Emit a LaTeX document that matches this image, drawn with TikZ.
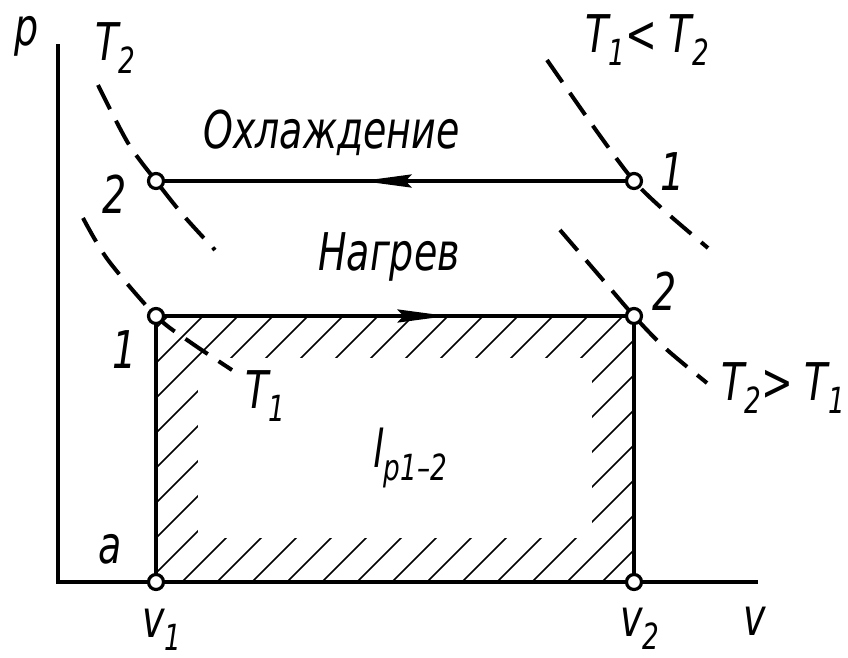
\documentclass[tikz,border=0pt]{standalone}
\usepackage{fontspec}
\setmainfont{DejaVu Sans}[FakeStretch=0.73]
\usetikzlibrary{arrows.meta,decorations.markings}
\newcommand\lowidx[1]{\raisebox{-13pt}[0pt][0pt]{\fontsize{36}{40}\selectfont #1}}

\begin{document}
\begin{tikzpicture}[x=1pt,y=-1pt,
  axis/.style={line width=4pt},
  proc/.style={line width=4pt},
  hatchln/.style={line width=1.6pt},
  isoterm/.style={line width=4pt, dash pattern=on 27pt off 13pt},
  pt/.style={circle, draw, fill=white, line width=3.2pt, minimum size=15pt, inner sep=0pt},
  lbl/.style={font=\itshape\fontsize{52}{60}\selectfont, inner sep=0pt, anchor=base west},
  flow/.style={postaction={decorate}, decoration={markings,
    mark=at position #1 with {\arrow{Stealth[length=50pt,width=13pt,inset=6pt]}}}}]
\useasboundingbox (0,0) rectangle (848,657);

\coordinate (O) at (58,582);
\coordinate (ptop) at (58,44);
\coordinate (vend) at (758,582);
\coordinate (A) at (156,582);
\coordinate (B) at (634,582);
\coordinate (H1) at (156,316);
\coordinate (H2) at (634,316);
\coordinate (C1) at (634,181);
\coordinate (C2) at (156,181);

\begin{scope}
  \clip (H1) rectangle (B);
  \foreach \k in {-8,...,13}
    \draw[hatchln] (182+35*\k,582) -- ++(300,-300);
\end{scope}
\fill[white] (198,358) rectangle (592,538);

\draw[axis] (ptop) -- (O) -- (vend);
\draw[proc] (A) -- (H1);
\draw[proc] (B) -- (H2);
\draw[proc, flow=0.61] (H1) -- (H2);
\draw[proc, flow=0.57] (C1) -- (C2);

\draw[isoterm] plot[smooth] coordinates {(98,85) (128,143) (156,181) (183,215) (215,250)};
\draw[isoterm] plot[smooth] coordinates {(83,218) (108,260) (156,316) (190,342) (232,370)};
\draw[isoterm] plot[smooth] coordinates {(547,60) (598,133) (634,181) (667,213) (708,248)};
\draw[isoterm] plot[smooth] coordinates {(560,230) (603,280) (634,316) (665,348) (707,383)};

\foreach \p in {A,B,H1,H2,C1,C2}
  \node[pt] (n\p) at (\p) {};

\node[lbl] (lp) at (14,45) {p};
\node[lbl] (lv) at (743,635) {v};
\node[lbl] (lvA) at (142,637) {v\lowidx{1}};
\node[lbl] (lvB) at (620,636) {v\lowidx{2}};
\node[lbl] (la) at (98,563) {a};
\node[lbl] (lcool) at (203,148) {Охлаждение};
\node[lbl] (lheat) at (318,270) {Нагрев};
\node[lbl] (lT2) at (95,60) {T\lowidx{2}};
\node[lbl] (lT1) at (245,408) {T\lowidx{1}};
\node[lbl] (lT12) at (585,52) {T\lowidx{1}< T\lowidx{2}};
\node[lbl] (lT21) at (721,400) {T\lowidx{2}> T\lowidx{1}};
\node[lbl] (lC1) at (660,190) {1};
\node[lbl] (lC2) at (102,213) {2};
\node[lbl] (lH1) at (112,368) {1};
\node[lbl] (lH2) at (652,310) {2};
\node[lbl] (lwork) at (373,467) {l\lowidx{p1–2}};
\end{tikzpicture}
\end{document}
